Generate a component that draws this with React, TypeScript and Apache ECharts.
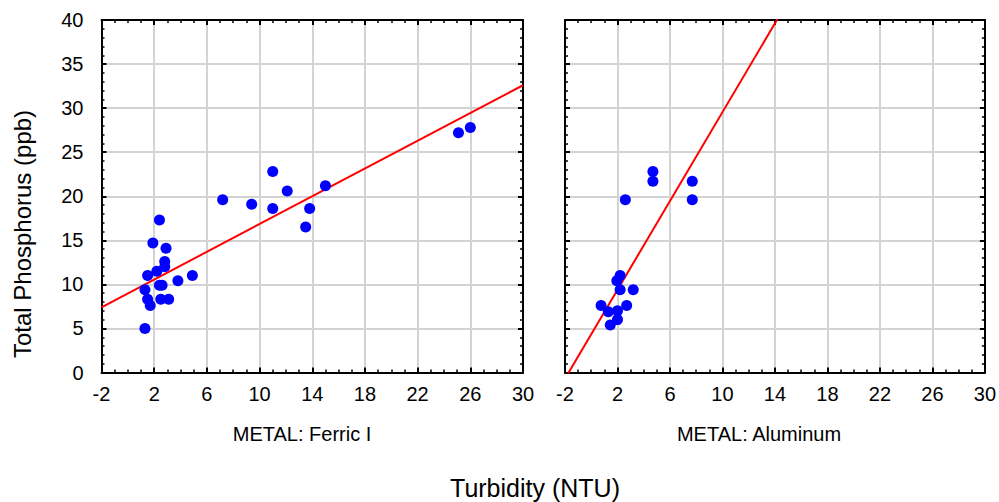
import { useEffect, useRef } from "react";
import * as echarts from "echarts";

// Panel 1: METAL: Ferric I
const ferricX = [25.1, 26.0, 11.0, 15.0, 12.1, 7.2, 9.4, 11.0, 13.8, 13.5, 2.4, 1.9, 2.9, 2.8, 2.8, 2.2, 1.5, 3.8, 4.9, 2.4, 2.6, 1.3, 1.5, 1.7, 2.5, 3.1, 1.3];
const ferricY = [27.2, 27.8, 22.8, 21.2, 20.6, 19.6, 19.1, 18.6, 18.6, 16.5, 17.3, 14.7, 14.1, 12.6, 12.0, 11.5, 11.0, 10.4, 11.0, 9.9, 9.9, 9.4, 8.3, 7.6, 8.3, 8.3, 5.0];
// Panel 2: METAL: Aluminum
const alumX = [4.7, 4.7, 7.7, 7.7, 2.6, 2.2, 1.95, 2.2, 3.2, 0.75, 2.7, 1.3, 2.0, 2.0, 1.45];
const alumY = [22.8, 21.7, 21.7, 19.6, 19.6, 11.0, 10.4, 9.4, 9.4, 7.6, 7.6, 6.9, 7.0, 6.0, 5.4];

// Linear fits (intercept, slope)
const ferricFit = [8.97, 0.7875];
const alumFit = [4.34, 2.52];

const panelTitles = ["METAL: Ferric I", "METAL: Aluminum"];
const xTitle = "Turbidity (NTU)";
const yTitle = "Total Phosphorus (ppb)";

const X_MIN = -2, X_MAX = 30, X_STEP = 4;
const Y_MIN = 0, Y_MAX = 40, Y_STEP = 5;

const FONT = "'Liberation Sans', Arial, sans-serif";

export default function App() {
  const ref = useRef<HTMLDivElement>(null);
  useEffect(() => {
    if (!ref.current) return;
    const chart = echarts.init(ref.current, null, { renderer: "svg" });

    const grids = [
      { left: 101.5, top: 20, width: 421.5, height: 352.5 },
      { left: 565, top: 20, width: 421.5, height: 352.5 },
    ];

    const tick = (len: number) => ({ show: true, inside: true, length: len, lineStyle: { color: "#000", width: 2 } });
    const minor = (n: number) => ({ show: true, splitNumber: n, length: 3, lineStyle: { color: "#000", width: 1.5 } });

    const xAxes: any[] = [];
    const yAxes: any[] = [];
    grids.forEach((_, gi) => {
      xAxes.push({
        type: "value", gridIndex: gi, position: "bottom", min: X_MIN, max: X_MAX, interval: X_STEP,
        axisLine: { show: true, onZero: false, lineStyle: { color: "#000", width: 2 } },
        axisTick: tick(5), minorTick: minor(4),
        axisLabel: { show: true, color: "#000", fontSize: 20, fontFamily: FONT, margin: 11 },
        splitLine: { show: true, lineStyle: { color: "#d3d3d3", width: 2 } },
      });
      xAxes.push({
        type: "value", gridIndex: gi, position: "top", min: X_MIN, max: X_MAX, interval: X_STEP,
        axisLine: { show: true, onZero: false, lineStyle: { color: "#000", width: 2 } },
        axisTick: tick(5), minorTick: minor(4),
        axisLabel: { show: false }, splitLine: { show: false },
      });
      yAxes.push({
        type: "value", gridIndex: gi, position: "left", min: Y_MIN, max: Y_MAX, interval: Y_STEP,
        axisLine: { show: true, onZero: false, lineStyle: { color: "#000", width: 2 } },
        axisTick: tick(5), minorTick: minor(5),
        axisLabel: { show: gi === 0, color: "#000", fontSize: 20, fontFamily: FONT, margin: 18 },
        splitLine: { show: true, lineStyle: { color: "#d3d3d3", width: 2 } },
      });
      yAxes.push({
        type: "value", gridIndex: gi, position: "right", min: Y_MIN, max: Y_MAX, interval: Y_STEP,
        axisLine: { show: true, onZero: false, lineStyle: { color: "#000", width: 2 } },
        axisTick: tick(5), minorTick: minor(5),
        axisLabel: { show: false }, splitLine: { show: false },
      });
    });

    const fitLine = (fit: number[]) => [X_MIN, X_MAX].map((x) => [x, fit[0] + fit[1] * x]);
    const pts = (xs: number[], ys: number[]) => xs.map((x, i) => [x, ys[i]]);

    const series: any[] = [
      { type: "line", xAxisIndex: 0, yAxisIndex: 0, data: fitLine(ferricFit), showSymbol: false, symbol: "none", clip: true, lineStyle: { color: "#ff0000", width: 2 }, z: 3 },
      { type: "scatter", xAxisIndex: 0, yAxisIndex: 0, data: pts(ferricX, ferricY), symbolSize: 11, itemStyle: { color: "#0000ff", opacity: 1 }, z: 4 },
      { type: "line", xAxisIndex: 2, yAxisIndex: 2, data: fitLine(alumFit), showSymbol: false, symbol: "none", clip: true, lineStyle: { color: "#ff0000", width: 2 }, z: 3 },
      { type: "scatter", xAxisIndex: 2, yAxisIndex: 2, data: pts(alumX, alumY), symbolSize: 11, itemStyle: { color: "#0000ff", opacity: 1 }, z: 4 },
    ];

    const textStyle = (text: string, size: number) => ({ text, fontSize: size, fontFamily: FONT, fill: "#000", align: "center", verticalAlign: "middle" });

    chart.setOption({
      animation: false,
      grid: grids,
      xAxis: xAxes,
      yAxis: yAxes,
      series,
      graphic: [
        { type: "text", x: 302, y: 434, style: textStyle(panelTitles[0], 20) },
        { type: "text", x: 759, y: 434, style: textStyle(panelTitles[1], 20) },
        { type: "text", x: 535, y: 488, style: textStyle(xTitle, 25) },
        { type: "text", x: 22, y: 234, rotation: Math.PI / 2, style: textStyle(yTitle, 24) },
      ],
    });
    return () => chart.dispose();
  }, []);
  return <div ref={ref} style={{ position: "fixed", left: 0, top: 0, width: 999, height: 502, background: "#fff" }} />;
}
